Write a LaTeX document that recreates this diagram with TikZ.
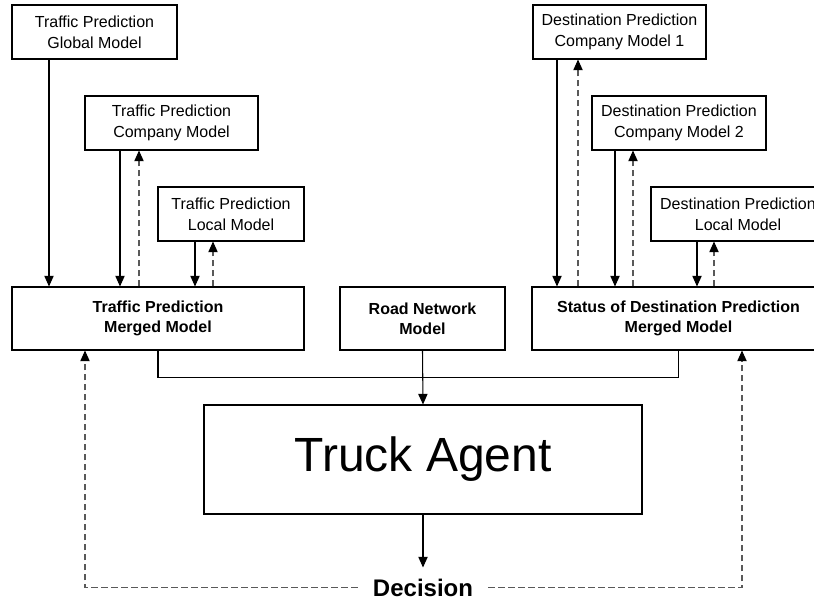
\documentclass[tikz,border=0pt]{standalone}
\usepackage{fontspec}
\setmainfont{Liberation Sans}
\usetikzlibrary{arrows.meta}

\begin{document}
\begin{tikzpicture}[x=0.75pt, y=-0.75pt, line width=0.8pt,
    box/.style = {draw, align=center, inner sep=0pt, minimum height=40.5pt, font=\fontsize{12}{15.5}\selectfont},
    merged/.style = {box, minimum height=47.25pt, font=\bfseries\fontsize{12}{15}\selectfont},
    arr/.style = {-{Triangle[length=8pt,width=7pt,black]}},
    back/.style = {arr, draw=black!65, dash pattern=on 5pt off 2.5pt}]
        \clip (0,0) rectangle (814,602);

        \node[box, minimum width=123.75pt] (tglobal) at (94.5,32) {Traffic Prediction\\Global Model};
        \node[box, minimum width=129.75pt] (tcompany) at (171.5,123) {Traffic Prediction\\Company Model};
        \node[box, minimum width=109.5pt] (tlocal) at (231,214) {Traffic Prediction\\Local Model};
        \node[merged, minimum width=219pt] (tmerged) at (158,318.5) {Traffic Prediction\\Merged Model};
        \node[merged, minimum width=123.75pt] (road) at (422.5,318.5) {Road Network\\Model};
        \node[merged, minimum width=219.75pt] (dmerged) at (678.5,318.5) {Status of Destination Prediction\\Merged Model};
        \node[box, minimum width=129.75pt] (dcompany1) at (619.5,32) {Destination Prediction\\Company Model 1};
        \node[box, minimum width=130.5pt] (dcompany2) at (679,123) {Destination Prediction\\Company Model 2};
        \node[box, minimum width=130.5pt] (dlocal) at (738,214) {Destination Prediction\\Local Model};
        \node[draw, minimum width=328.5pt, minimum height=81.75pt, font=\fontsize{36}{40}\selectfont] (truck) at (423,459.5) {Truck Agent};
        \node[font=\bfseries\fontsize{18}{20}\selectfont, inner xsep=11pt, inner ysep=8pt] (decision) at (423,587.5) {Decision};

        % models into merged models
        \draw[arr] (tglobal.south -| 49,0) -- (tmerged.north -| 49,0);
        \draw[arr] (tcompany.south -| 120,0) -- (tmerged.north -| 120,0);
        \draw[arr] (tlocal.south -| 195,0) -- (tmerged.north -| 195,0);
        \draw[arr] (dcompany1.south -| 557,0) -- (dmerged.north -| 557,0);
        \draw[arr] (dcompany2.south -| 615,0) -- (dmerged.north -| 615,0);
        \draw[arr] (dlocal.south -| 697,0) -- (dmerged.north -| 697,0);

        % updates back to the models
        \draw[back] (tmerged.north -| 139,0) -- (tcompany.south -| 139,0);
        \draw[back] (tmerged.north -| 213,0) -- (tlocal.south -| 213,0);
        \draw[back] (dmerged.north -| 578,0) -- (dcompany1.south -| 578,0);
        \draw[back] (dmerged.north -| 633,0) -- (dcompany2.south -| 633,0);
        \draw[back] (dmerged.north -| 714,0) -- (dlocal.south -| 714,0);

        % into the agent
        \draw (tmerged.south) -- ++(0,27) -| (dmerged.south);
        \draw[arr] (road.south) -- (truck.north);
        \draw[arr] (truck.south) -- (decision.north);

        % decision feedback
        \draw[back] (decision.west) -| (tmerged.south -| 85,0);
        \draw[back] (decision.east) -| (dmerged.south -| 742,0);
    \end{tikzpicture}
\end{document}
